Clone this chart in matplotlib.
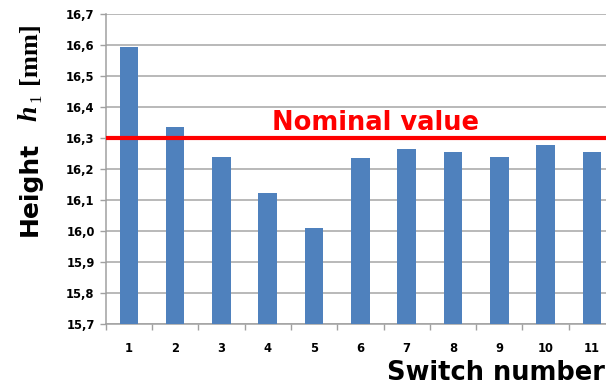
import matplotlib
matplotlib.use("Agg")
import matplotlib.pyplot as plt
import numpy as np

switches = ["1", "2", "3", "4", "5", "6", "7", "8", "9", "10", "11"]
heights = [16.593, 16.336, 16.240, 16.124, 16.009, 16.235, 16.264, 16.255, 16.240, 16.278, 16.255]
nominal = 16.3
y_ticks = [15.7, 15.8, 15.9, 16.0, 16.1, 16.2, 16.3, 16.4, 16.5, 16.6, 16.7]
y_tick_labels = ["15,7", "15,8", "15,9", "16,0", "16,1", "16,2", "16,3", "16,4", "16,5", "16,6", "16,7"]

W, H = 606, 385
fig = plt.figure(figsize=(W / 100, H / 100), dpi=100)
left, right, bottom, top = 105.7, 615.0, 324.0, 14.0
ax = fig.add_axes([left / W, 1 - bottom / H, (right - left) / W, (bottom - top) / H])

x = np.arange(len(switches))
ax.bar(x, [h - 15.7 for h in heights], bottom=15.7, width=0.4, color="#4F81BD", zorder=3)
ax.axhline(nominal, color="#FF0000", linewidth=3.0, zorder=4)

ax.set_xlim(-0.5, len(switches) - 0.5)
ax.set_ylim(15.7, 16.7)
ax.set_yticks(y_ticks)
ax.set_yticklabels(y_tick_labels, fontsize=8.3, fontweight="bold", family="DejaVu Sans")
ax.set_xticks(x)
ax.set_xticklabels(switches, fontsize=8.3, fontweight="bold", family="DejaVu Sans")
ax.set_xticks(np.arange(-0.5, len(switches), 1.0), minor=True)
ax.tick_params(axis="x", which="major", length=0, pad=13)
ax.tick_params(axis="x", which="minor", length=4, color="#a0a0a0", width=1)
ax.tick_params(axis="y", which="major", length=4, color="#a0a0a0", width=1, pad=4)

ax.grid(axis="y", color="#a6a6a6", linewidth=1.1, zorder=0)
for s in ["top", "right"]:
    ax.spines[s].set_visible(False)
for s in ["left", "bottom"]:
    ax.spines[s].set_color("#a0a0a0")
    ax.spines[s].set_linewidth(1.1)

ax.text((376 - left) / (right - left), 1 - (130 - top) / (bottom - top),
        "Nominal value", transform=ax.transAxes, ha="center", va="baseline",
        color="#FF0000", fontsize=18.5, fontweight="bold", family="DejaVu Sans", zorder=5)

fig.text(605 / W, 1 - 380 / H, "Switch number", ha="right", va="baseline",
         fontsize=18.5, fontweight="bold", family="DejaVu Sans")

# y label pieces (rotated)
fig.text(42 / W, 1 - 236 / H, "Height", rotation=90, ha="right", va="bottom",
         fontsize=18, fontweight="bold", family="DejaVu Sans")
fig.text(42 / W, 1 - 121 / H, "h", rotation=90, ha="right", va="bottom",
         fontsize=20, fontweight="bold", style="italic", family="Liberation Serif")
fig.text(44 / W, 1 - 102 / H, "1", rotation=90, ha="right", va="bottom",
         fontsize=12, family="Liberation Serif")
fig.text(41 / W, 1 - 84 / H, "[mm]", rotation=90, ha="right", va="bottom",
         fontsize=19, fontweight="bold", family="Liberation Serif")

fig.savefig("out.png", dpi=100)
